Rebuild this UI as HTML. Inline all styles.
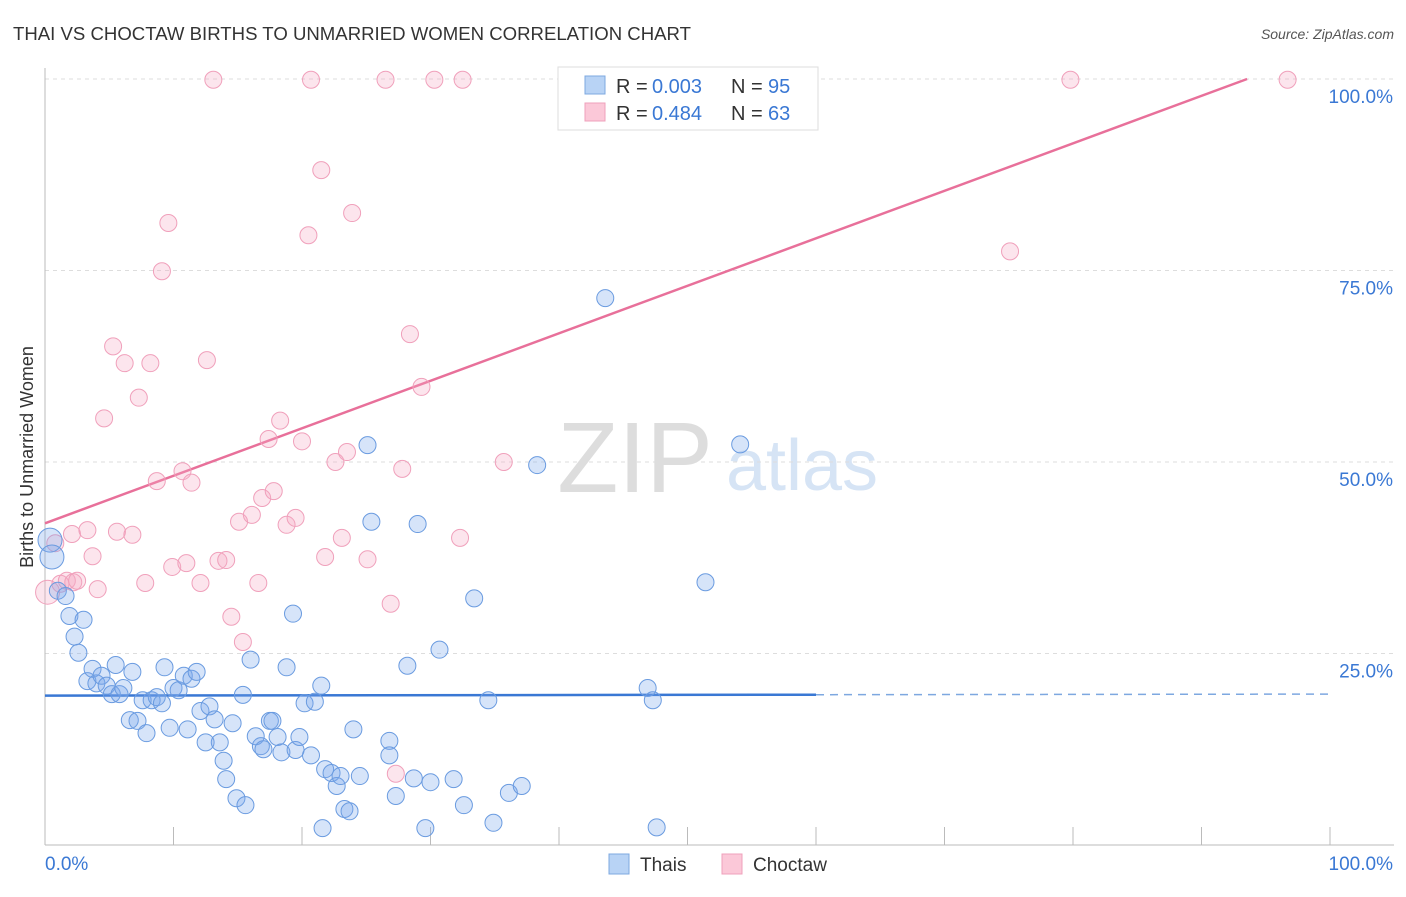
<!DOCTYPE html>
<html><head><meta charset="utf-8"><style>
body{margin:0;background:#fff;font-family:"Liberation Sans",sans-serif}
svg text{font-family:"Liberation Sans",sans-serif}
</style></head><body>
<svg id="chart" width="1406" height="892" viewBox="0 0 1406 892">
<text x="13" y="40" font-size="18" fill="#333" textLength="678" lengthAdjust="spacingAndGlyphs">THAI VS CHOCTAW BIRTHS TO UNMARRIED WOMEN CORRELATION CHART</text>
<text x="1394" y="39" font-size="14" fill="#555" font-style="italic" text-anchor="end">Source: ZipAtlas.com</text>
<text x="33" y="457" font-size="18" fill="#333" text-anchor="middle" transform="rotate(-90 33 457)">Births to Unmarried Women</text>
<g>
<text x="635" y="492" font-size="100" fill="#ddd" font-family="Liberation Serif" text-anchor="middle">ZIP</text>
<text x="802" y="490" font-size="72" fill="#d6e4f5" text-anchor="middle">atlas</text>
</g>
<g id="grid"></g><g id="axes"></g><g id="lines"></g><g id="points"></g>
<g>
<rect x="558" y="67" width="260" height="63" fill="#fff" stroke="#ddd"/>
<rect x="585" y="76" width="20" height="18" fill="#b8d3f5" stroke="#7ea8e0"/>
<rect x="585" y="103" width="20" height="18" fill="#fbc8d8" stroke="#efa0bb"/>
<text x="616" y="93" font-size="20" fill="#333">R =</text>
<text x="652" y="93" font-size="20" fill="#3a78d4">0.003</text>
<text x="731" y="93" font-size="20" fill="#333">N =</text>
<text x="768" y="93" font-size="20" fill="#3a78d4">95</text>
<text x="616" y="120" font-size="20" fill="#333">R =</text>
<text x="652" y="120" font-size="20" fill="#3a78d4">0.484</text>
<text x="731" y="120" font-size="20" fill="#333">N =</text>
<text x="768" y="120" font-size="20" fill="#3a78d4">63</text>
</g>
<g>
<rect x="609" y="854" width="20" height="20" fill="#b8d3f5" stroke="#7ea8e0"/>
<text x="640" y="871" font-size="19" fill="#333">Thais</text>
<rect x="722" y="854" width="20" height="20" fill="#fbc8d8" stroke="#efa0bb"/>
<text x="753" y="871" font-size="19" fill="#333">Choctaw</text>
</g>
</svg>
<script>
const yTicks=[25,50,75,100];
const yTickLabels=["25.0%","50.0%","75.0%","100.0%"];
const xTicks=[0,10,20,30,40,50,60,70,80,90,100];
const thaiX=[0.39,0.54,1.0,1.6,1.9,2.3,2.6,3.0,3.3,3.7,4.0,4.4,4.8,5.2,5.5,5.8,6.1,6.8,6.6,7.2,7.6,7.9,8.3,8.7,9.1,9.3,9.7,10.0,10.4,10.8,11.1,11.4,11.8,12.1,12.5,12.8,13.2,13.6,13.9,14.1,14.6,14.9,15.4,15.6,16.0,16.4,16.8,17.0,17.5,17.7,18.1,18.4,18.8,19.3,19.5,19.8,20.2,20.7,21.0,21.5,21.6,21.8,22.3,22.7,23.0,23.3,23.7,24.0,24.5,25.1,25.4,26.8,26.8,27.3,28.2,28.7,29.0,29.6,30.0,30.7,31.8,32.6,33.4,34.5,34.9,36.1,37.1,38.3,43.6,46.9,47.3,47.6,51.4,54.1];
const thaiY=[39.8,37.6,33.2,32.5,29.9,27.2,25.1,29.4,21.4,23.0,21.1,22.1,20.8,19.7,23.5,19.7,20.5,22.6,16.3,16.2,18.9,14.6,18.9,19.3,18.5,23.2,15.3,20.5,20.2,22.1,15.1,21.7,22.6,17.5,13.4,18.1,16.4,13.4,11.0,8.6,15.9,6.1,19.6,5.2,24.2,14.2,12.9,12.5,16.2,16.2,14.1,12.1,23.2,30.2,12.4,14.1,18.5,11.7,18.7,20.8,2.2,9.9,9.4,7.7,9.0,4.7,4.4,15.1,9.0,52.2,42.2,13.6,11.7,6.4,23.4,8.7,41.9,2.2,8.2,25.5,8.6,5.2,32.2,18.9,2.9,6.8,7.7,49.6,71.4,20.5,18.9,2.3,34.3,52.3];
const choctawX=[0.2,0.8,1.2,1.7,2.2,2.5,2.1,3.3,3.7,4.1,4.6,5.3,5.6,6.2,6.8,7.3,7.8,8.2,8.7,9.1,9.6,9.9,10.7,11.0,11.4,12.1,12.6,13.1,13.5,14.1,14.5,15.1,15.4,16.1,16.6,16.9,17.4,17.8,18.3,18.8,19.5,20.0,20.5,20.7,21.5,21.8,22.6,23.1,23.5,23.9,25.1,26.5,26.9,27.3,27.8,28.4,29.3,30.3,32.3,32.5,35.7,75.1,79.8,96.7];
const choctawY=[33.0,39.4,34.1,34.5,34.3,34.5,40.6,41.1,37.7,33.4,55.7,65.1,40.9,62.9,40.5,58.4,34.2,62.9,47.5,74.9,81.2,36.3,48.8,36.8,47.3,34.2,63.3,99.9,37.1,37.2,29.8,42.2,26.5,43.1,34.2,45.3,53.0,46.2,55.4,41.8,42.7,52.7,79.6,99.9,88.1,37.6,50.0,40.1,51.3,82.5,37.3,99.9,31.5,9.3,49.1,66.7,59.8,99.9,40.1,99.9,50.0,77.5,99.9,99.9];
const thaiTrend=[19.5,19.7];
const choctawTrend=[42.0,104.0];
const NS="http://www.w3.org/2000/svg";
const sx=v=>45+v*12.85, sy=v=>845-v*7.66;
function mk(tag,attrs,parent){const e=document.createElementNS(NS,tag);for(const k in attrs)e.setAttribute(k,attrs[k]);document.getElementById(parent).appendChild(e);return e;}
yTicks.forEach((t,i)=>{
 const g=mk('line',{x1:45,x2:1394,y1:sy(t),y2:sy(t),stroke:'#ddd','stroke-dasharray':'4,4'},'grid');
 
 
 const tx=mk('text',{x:1393,y:sy(t)+24,'font-size':19,fill:'#3a78d4','text-anchor':'end'},'axes');
 tx.textContent=yTickLabels[i];
 
 
});
let ax=mk('line',{x1:45,x2:45,y1:68,y2:845,stroke:'#bbb'},'axes');


ax=mk('line',{x1:45,x2:1394,y1:845,y2:845,stroke:'#bbb'},'axes');


xTicks.forEach(t=>{
 const l=mk('line',{x1:sx(t),x2:sx(t),y1:827,y2:845,stroke:'#bbb'},'axes');
 
 
});
let xl=mk('text',{x:45,y:870,'font-size':19,fill:'#3a78d4'},'axes');xl.textContent='0.0%';


xl=mk('text',{x:1393,y:870,'font-size':19,fill:'#3a78d4','text-anchor':'end'},'axes');xl.textContent='100.0%';


function drawPts(X,Y,fill,stroke,name){
 X.forEach((x,i)=>{
  const r=(x<0.6&&Y[i]>36)||(x<0.3)?12:8.5;
  const c=mk('circle',{cx:sx(x),cy:sy(Y[i]),r:r,fill:fill,stroke:stroke,'stroke-width':1},'points');
  
  
 });
}
drawPts(choctawX,choctawY,'rgba(246,170,196,0.3)','#f0a0bb','choctaw-point');
drawPts(thaiX,thaiY,'rgba(120,165,235,0.3)','#6a9be0','thai-point');
const ctEnd=(100-choctawTrend[0])/((choctawTrend[1]-choctawTrend[0])/100);
let ln=mk('line',{x1:sx(0),y1:sy(choctawTrend[0]),x2:sx(ctEnd),y2:sy(100),stroke:'#e8709a','stroke-width':2.5},'lines');


const tm=thaiTrend[0]+(thaiTrend[1]-thaiTrend[0])*0.6;
ln=mk('line',{x1:sx(0),y1:sy(thaiTrend[0]),x2:sx(60),y2:sy(tm),stroke:'#3a78d4','stroke-width':2.5},'lines');


ln=mk('line',{x1:sx(60),y1:sy(tm),x2:sx(100),y2:sy(thaiTrend[1]),stroke:'#7ea8e0','stroke-width':1.5,'stroke-dasharray':'8,6'},'lines');


</script>
</body></html>
